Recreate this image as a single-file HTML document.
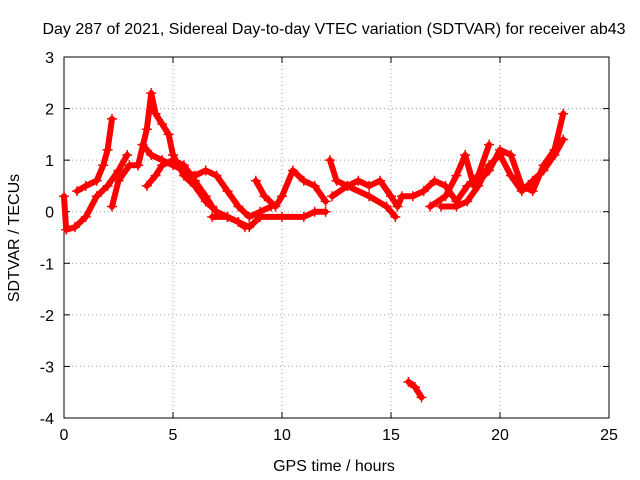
<!DOCTYPE html>
<html><head><meta charset="utf-8"><style>
html,body{margin:0;padding:0;background:#fff;}
svg{display:block;font-family:"Liberation Sans",sans-serif;}
</style></head><body>
<svg id="chart" width="640" height="480" viewBox="0 0 640 480">
<text x="334" y="34" font-size="16" text-anchor="middle">Day 287 of 2021, Sidereal Day-to-day VTEC variation (SDTVAR) for receiver ab43</text>
<text x="334" y="471" font-size="16" text-anchor="middle">GPS time / hours</text>
<text transform="translate(19,238) rotate(-90)" font-size="16" text-anchor="middle">SDTVAR / TECUs</text>
<g id="grid"></g>
<g id="axes"></g>
<g id="series"></g>
</svg>
<script>
const xTicks=[0,5,10,15,20,25];
const yTicks=[-4,-3,-2,-1,0,1,2,3];
const traceA=[[0,0.3],[0.1,-0.35],[0.5,-0.3],[1,-0.1],[1.5,0.3],[2,0.5],[2.5,0.8],[2.9,1.1]];
const traceB=[[0.6,0.4],[1,0.5],[1.5,0.6],[1.8,0.9],[2,1.2],[2.2,1.8]];
const traceC=[[2.2,0.1],[2.5,0.6],[3,0.9],[3.4,0.9]];
const traceD=[[3.4,0.9],[3.8,1.6],[4,2.3],[4.2,1.9],[4.5,1.7],[4.8,1.5],[5,1.1],[5.5,0.7],[6,0.5],[6.5,0.2],[7,0],[7.5,-0.1],[8,-0.2],[8.3,-0.3]];
const traceE=[[3.6,1.3],[4,1.1],[4.5,1.0],[5,0.9],[5.5,0.8],[6,0.7],[6.5,0.8],[7,0.7],[7.5,0.4],[8,0.1],[8.5,-0.1],[9,0],[9.5,0.1]];
const traceF=[[3.8,0.5],[4.2,0.7],[4.5,0.9],[5,1.0],[5.5,0.9],[6,0.6],[6.5,0.3],[6.8,0.1]];
const traceG=[[6.8,-0.1],[7.5,-0.1],[8,-0.2],[8.5,-0.3],[9,-0.1],[10,-0.1],[11,-0.1],[11.5,0],[12,0]];
const traceH=[[8.8,0.6],[9.2,0.3],[9.7,0.1],[10,0.3],[10.5,0.8],[11,0.6],[11.5,0.5],[12,0.2]];
const traceI=[[12.2,1.0],[12.5,0.6],[13,0.5],[13.5,0.6],[14,0.5],[14.5,0.6],[15,0.3],[15.3,0.1],[15.5,0.3],[16,0.3],[16.5,0.4],[17,0.6],[17.5,0.5],[18,0.2],[18.5,0.5],[19,0.7],[19.5,1.3]];
const traceJ=[[12.3,0.3],[13,0.5],[14,0.3],[14.8,0.1],[15.2,-0.1]];
const traceK=[[16.8,0.1],[17.5,0.3],[18,0.7],[18.4,1.1],[18.8,0.5],[19.5,0.8],[20,1.2],[20.5,1.1],[21,0.5],[21.5,0.4],[22,0.9],[22.5,1.2],[22.9,1.9]];
const traceL=[[17.3,0.1],[18,0.1],[18.5,0.2],[19,0.5],[19.5,0.9],[20,1.1],[20.5,0.7],[21,0.4],[21.5,0.6],[22,0.8],[22.5,1.1],[22.9,1.4]];
const traceM=[[15.8,-3.3],[16.1,-3.4],[16.4,-3.6]];
const traces=[traceA,traceB,traceC,traceD,traceE,traceF,traceG,traceH,traceI,traceJ,traceK,traceL,traceM];

const L=64,R=609,T=57,B=418,xMin=0,xMax=25,yMin=-4,yMax=3;
const xs=v=>L+(v-xMin)/(xMax-xMin)*(R-L);
const ys=v=>B-(v-yMin)/(yMax-yMin)*(B-T);
const NS="http://www.w3.org/2000/svg";
function mk(tag,attrs,parent){const e=document.createElementNS(NS,tag);for(const k in attrs)e.setAttribute(k,attrs[k]);parent.appendChild(e);return e;}
const grid=document.getElementById('grid'),axes=document.getElementById('axes'),ser=document.getElementById('series');
xTicks.forEach(t=>{const x=xs(t);
 if(t>xMin&&t<xMax){const g=mk('line',{x1:x,x2:x,y1:T,y2:B,stroke:'#a0a0a0','stroke-dasharray':'1,3'},grid);
 
 }
 mk('line',{x1:x,x2:x,y1:B,y2:B-6,stroke:'#000'},axes);
 mk('line',{x1:x,x2:x,y1:T,y2:T+6,stroke:'#000'},axes);
 const tx=mk('text',{x:x,y:B+22,'font-size':16,'text-anchor':'middle'},axes);tx.textContent=t;
 
 
});
yTicks.forEach(t=>{const y=ys(t);
 if(t>yMin&&t<yMax){const g=mk('line',{x1:L,x2:R,y1:y,y2:y,stroke:'#a0a0a0','stroke-dasharray':'1,3'},grid);
 
 }
 mk('line',{x1:L,x2:L+6,y1:y,y2:y,stroke:'#000'},axes);
 mk('line',{x1:R,x2:R-6,y1:y,y2:y,stroke:'#000'},axes);
 const tx=mk('text',{x:L-10,y:y+6,'font-size':16,'text-anchor':'end'},axes);tx.textContent=t;
 
 
});
const fr=mk('rect',{x:L,y:T,width:R-L,height:B-T,fill:'none',stroke:'#000'},axes);


traces.forEach(tr=>{
 const pl=mk('polyline',{points:tr.map(p=>xs(p[0])+','+ys(p[1])).join(' '),fill:'none',stroke:'#f00','stroke-width':6,'stroke-linejoin':'round','stroke-linecap':'round'},ser);
 
 
 tr.forEach(p=>{const x=xs(p[0]),y=ys(p[1]);
  const m=mk('path',{d:`M${x-5},${y}H${x+5}M${x},${y-5}V${y+5}`,stroke:'#f00','stroke-width':1.5},ser);
  
  
 });
});
</script>
</body></html>
